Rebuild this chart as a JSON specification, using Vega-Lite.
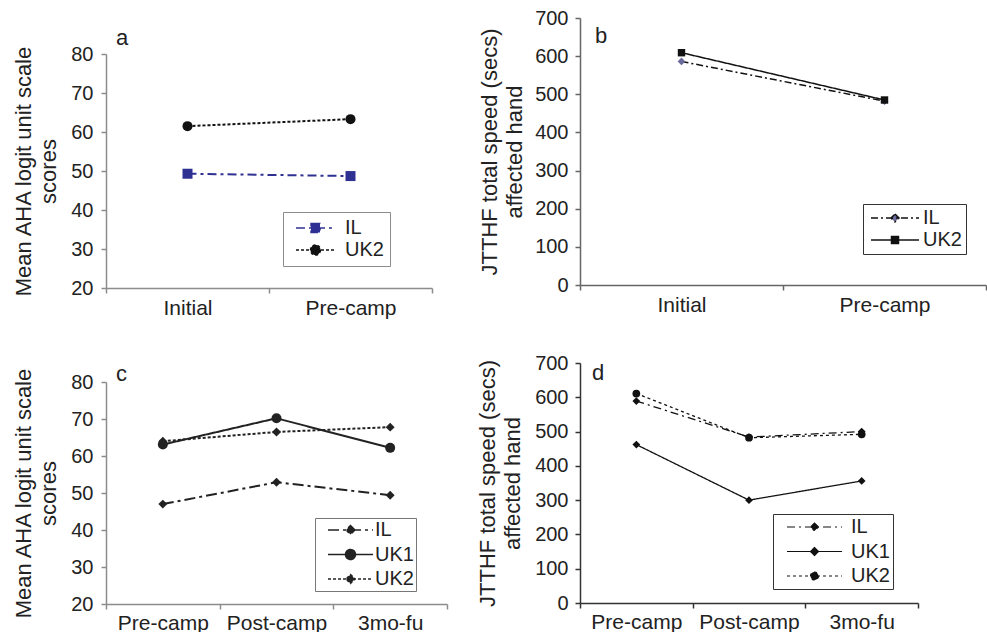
{
  "$schema": "https://vega.github.io/schema/vega-lite/v6.json",
  "padding": {"left": 12, "top": 8, "right": 0, "bottom": 0},
  "background": "white",
  "data": {"values": [
    {"panel": "a", "time": "Initial", "group": "IL", "value": 49.3},
    {"panel": "a", "time": "Pre-camp", "group": "IL", "value": 48.7},
    {"panel": "a", "time": "Initial", "group": "UK2", "value": 61.5},
    {"panel": "a", "time": "Pre-camp", "group": "UK2", "value": 63.3},
    {"panel": "b", "time": "Initial", "group": "IL", "value": 586},
    {"panel": "b", "time": "Pre-camp", "group": "IL", "value": 482},
    {"panel": "b", "time": "Initial", "group": "UK2", "value": 609},
    {"panel": "b", "time": "Pre-camp", "group": "UK2", "value": 485},
    {"panel": "c", "time": "Pre-camp", "group": "IL", "value": 47.0},
    {"panel": "c", "time": "Post-camp", "group": "IL", "value": 52.9},
    {"panel": "c", "time": "3mo-fu", "group": "IL", "value": 49.4},
    {"panel": "c", "time": "Pre-camp", "group": "UK1", "value": 63.1},
    {"panel": "c", "time": "Post-camp", "group": "UK1", "value": 70.2},
    {"panel": "c", "time": "3mo-fu", "group": "UK1", "value": 62.2},
    {"panel": "c", "time": "Pre-camp", "group": "UK2", "value": 64.0},
    {"panel": "c", "time": "Post-camp", "group": "UK2", "value": 66.5},
    {"panel": "c", "time": "3mo-fu", "group": "UK2", "value": 67.8},
    {"panel": "d", "time": "Pre-camp", "group": "IL", "value": 589},
    {"panel": "d", "time": "Post-camp", "group": "IL", "value": 484},
    {"panel": "d", "time": "3mo-fu", "group": "IL", "value": 500},
    {"panel": "d", "time": "Pre-camp", "group": "UK1", "value": 462},
    {"panel": "d", "time": "Post-camp", "group": "UK1", "value": 300},
    {"panel": "d", "time": "3mo-fu", "group": "UK1", "value": 356},
    {"panel": "d", "time": "Pre-camp", "group": "UK2", "value": 611},
    {"panel": "d", "time": "Post-camp", "group": "UK2", "value": 482},
    {"panel": "d", "time": "3mo-fu", "group": "UK2", "value": 492}
  ]},
  "config": {
    "font": "Liberation Sans",
    "view": {"stroke": null},
    "axis": {
      "labelFont": "Liberation Sans", "titleFont": "Liberation Sans",
      "labelColor": "#222", "titleColor": "#222",
      "labelFontSize": 20, "titleFontSize": 22, "titleFontWeight": "normal",
      "domainColor": "#8c8c8c", "tickColor": "#8c8c8c", "domainWidth": 1.5, "tickWidth": 1.5,
      "tickSize": 5, "grid": false
    },
    "legend": {"labelFont": "Liberation Sans", "labelColor": "#222", "labelFontSize": 20, "labelLimit": 200, "clipHeight": 20},
    "title": {"font": "Liberation Sans", "fontSize": 22, "fontWeight": "normal", "color": "#222", "anchor": "start", "frame": "group"}
  },
  "spacing": 28,
  "resolve": {"scale": {"color": "independent", "strokeDash": "independent"}, "legend": {"color": "independent", "strokeDash": "independent"}},
  "hconcat": [
    {
      "spacing": 8,
      "resolve": {"scale": {"color": "independent", "strokeDash": "independent"}, "legend": {"color": "independent", "strokeDash": "independent"}},
      "vconcat": [
        {"width": 10, "height": 1, "data": {"values": []}, "mark": "point", "view": {"fill": "white", "stroke": null}},
        {
          "spacing": 34,
          "resolve": {"scale": {"color": "independent", "strokeDash": "independent"}, "legend": {"color": "independent", "strokeDash": "independent"}},
          "vconcat": [
            {
              "width": 326, "height": 234,
              "title": {"text": "a", "dx": 10, "offset": -6},
              "transform": [{"filter": "datum.panel === 'a'"}],
              "encoding": {
                "x": {"field": "time", "type": "nominal", "sort": ["Initial", "Pre-camp"],
                      "scale": {"type": "band", "paddingInner": 0, "paddingOuter": 0},
                      "axis": {"title": null, "labelAngle": 0, "tickBand": "extent", "labelFontSize": 21, "labelPadding": 4}},
                "y": {"field": "value", "type": "quantitative",
                      "scale": {"domain": [20, 80], "nice": false, "zero": false},
                      "axis": {"values": [20, 30, 40, 50, 60, 70, 80], "title": ["Mean AHA logit unit scale", "scores"], "titleLineHeight": 25, "titlePadding": 10, "labelPadding": 8}}
              },
              "layer": [
                {
                  "mark": {"type": "line", "strokeWidth": 2},
                  "encoding": {
                    "color": {"field": "group", "type": "nominal",
                              "scale": {"domain": ["IL", "UK2"], "range": ["#2e3192", "#111111"]},
                              "legend": {"orient": "none", "legendX": 177, "legendY": 158, "title": null, "padding": 6, "rowPadding": 2, "labelOffset": 3,
                                         "symbolSize": 2601, "symbolStrokeWidth": 1.5, "strokeColor": "#8c8c8c", "fillColor": "white",
                                         "encode": {"symbols": {"update": {
                                           "shape": {"signal": "datum.value === 'IL' ? 'M-0.765,0H0.765M-0.176,-0.176H0.176V0.176H-0.176Z' : 'M-0.765,0H0.765M0.196,0A0.196,0.196,0,1,1,-0.196,0A0.196,0.196,0,1,1,0.196,0Z'"},
                                           "fill": {"signal": "datum.value === 'IL' ? '#2e3192' : '#111111'"}}}}}},
                    "strokeDash": {"field": "group", "type": "nominal",
                                   "scale": {"domain": ["IL", "UK2"], "range": [[9, 4, 3, 4], [3, 2]]},
                                   "legend": {"orient": "none", "legendX": 177, "legendY": 158, "title": null, "padding": 6, "rowPadding": 2, "labelOffset": 3,
                                         "symbolSize": 2601, "symbolStrokeWidth": 1.5, "strokeColor": "#8c8c8c", "fillColor": "white",
                                         "encode": {"symbols": {"update": {
                                           "shape": {"signal": "datum.value === 'IL' ? 'M-0.765,0H0.765M-0.176,-0.176H0.176V0.176H-0.176Z' : 'M-0.765,0H0.765M0.196,0A0.196,0.196,0,1,1,-0.196,0A0.196,0.196,0,1,1,0.196,0Z'"},
                                           "fill": {"signal": "datum.value === 'IL' ? '#2e3192' : '#111111'"}}}}}}
                  }
                },
                {"transform": [{"filter": "datum.group === 'IL'"}], "mark": {"type": "point", "shape": "square", "filled": true, "size": 100, "color": "#2e3192", "opacity": 1}},
                {"transform": [{"filter": "datum.group === 'UK2'"}], "mark": {"type": "point", "shape": "circle", "filled": true, "size": 100, "color": "#111111", "opacity": 1}}
              ]
            },
            {
              "width": 341, "height": 222,
              "title": {"text": ["", "c"], "lineHeight": 11, "dx": 10, "offset": -19},
              "transform": [{"filter": "datum.panel === 'c'"}],
              "encoding": {
                "x": {"field": "time", "type": "nominal", "sort": ["Pre-camp", "Post-camp", "3mo-fu"],
                      "scale": {"type": "band", "paddingInner": 0, "paddingOuter": 0},
                      "axis": {"title": null, "labelAngle": 0, "tickBand": "extent", "labelFontSize": 21, "labelPadding": 3}},
                "y": {"field": "value", "type": "quantitative",
                      "scale": {"domain": [20, 80], "nice": false, "zero": false},
                      "axis": {"values": [20, 30, 40, 50, 60, 70, 80], "title": ["Mean AHA logit unit scale", "scores"], "titleLineHeight": 25, "titlePadding": 10, "labelPadding": 8}}
              },
              "layer": [
                {
                  "mark": {"type": "line", "strokeWidth": 2},
                  "encoding": {
                    "color": {"field": "group", "type": "nominal",
                              "scale": {"domain": ["IL", "UK1", "UK2"], "range": ["#222222", "#222222", "#222222"]},
                              "legend": {"orient": "none", "legendX": 209, "legendY": 136, "title": null, "padding": 2, "rowPadding": 4.5, "labelOffset": -9,
                                         "symbolSize": 4225, "symbolStrokeWidth": 1.5, "strokeColor": "#777", "fillColor": "white",
                                         "encode": {"symbols": {"update": {
                                           "shape": {"signal": "datum.value === 'UK1' ? 'M-0.692,0H0.692M0.154,0A0.154,0.154,0,1,1,-0.154,0A0.154,0.154,0,1,1,0.154,0Z' : 'M-0.692,0H0.692M0,-0.138L0.138,0L0,0.138L-0.138,0Z'"},
                                           "fill": {"value": "#222222"}}}}}},
                    "strokeDash": {"field": "group", "type": "nominal",
                                   "scale": {"domain": ["IL", "UK1", "UK2"], "range": [[11, 4, 3, 4], [1, 0], [3, 2]]},
                                   "legend": {"orient": "none", "legendX": 209, "legendY": 136, "title": null, "padding": 2, "rowPadding": 4.5, "labelOffset": -9,
                                         "symbolSize": 4225, "symbolStrokeWidth": 1.5, "strokeColor": "#777", "fillColor": "white",
                                         "encode": {"symbols": {"update": {
                                           "shape": {"signal": "datum.value === 'UK1' ? 'M-0.692,0H0.692M0.154,0A0.154,0.154,0,1,1,-0.154,0A0.154,0.154,0,1,1,0.154,0Z' : 'M-0.692,0H0.692M0,-0.138L0.138,0L0,0.138L-0.138,0Z'"},
                                           "fill": {"value": "#222222"}}}}}}
                  }
                },
                {"transform": [{"filter": "datum.group !== 'UK1'"}], "mark": {"type": "point", "shape": "diamond", "filled": true, "size": 80, "color": "#222222", "opacity": 1}},
                {"transform": [{"filter": "datum.group === 'UK1'"}], "mark": {"type": "point", "shape": "circle", "filled": true, "size": 100, "color": "#222222", "opacity": 1}}
              ]
            }
          ]
        }
      ]
    },
    {
      "spacing": 38,
      "resolve": {"scale": {"color": "independent", "strokeDash": "independent"}, "legend": {"color": "independent", "strokeDash": "independent"}},
      "vconcat": [
        {
          "width": 406, "height": 267,
          "title": {"text": "b", "dx": 15, "offset": -40},
          "transform": [{"filter": "datum.panel === 'b'"}],
          "encoding": {
            "x": {"field": "time", "type": "nominal", "sort": ["Initial", "Pre-camp"],
                  "scale": {"type": "band", "paddingInner": 0, "paddingOuter": 0},
                  "axis": {"title": null, "labelAngle": 0, "tickBand": "extent", "labelFontSize": 21, "labelPadding": 4, "domainColor": "#666", "tickColor": "#666"}},
            "y": {"field": "value", "type": "quantitative",
                  "scale": {"domain": [0, 700], "nice": false},
                  "axis": {"values": [0, 100, 200, 300, 400, 500, 600, 700], "title": ["JTTHF total speed (secs)", "affected hand"], "titleLineHeight": 25, "titlePadding": 8, "labelPadding": 7, "domainColor": "#666", "tickColor": "#666"}}
          },
          "layer": [
            {
              "mark": {"type": "line", "strokeWidth": 1.5},
              "encoding": {
                "color": {"field": "group", "type": "nominal",
                          "scale": {"domain": ["IL", "UK2"], "range": ["#111111", "#111111"]},
                          "legend": {"orient": "none", "legendX": 283, "legendY": 186, "title": null, "padding": 4, "rowPadding": 2, "labelOffset": 0,
                                     "symbolSize": 2916, "symbolStrokeWidth": 1.5, "strokeColor": "#333", "fillColor": "white",
                                     "encode": {"symbols": {"update": {
                                       "shape": {"signal": "datum.value === 'IL' ? 'M-0.889,0H0.889M0,-0.148L0.148,0L0,0.148L-0.148,0Z' : 'M-0.889,0H0.889M-0.13,-0.13H0.13V0.13H-0.13Z'"},
                                       "fill": {"signal": "datum.value === 'IL' ? '#6b6b9b' : '#111111'"}}}}}},
                "strokeDash": {"field": "group", "type": "nominal",
                               "scale": {"domain": ["IL", "UK2"], "range": [[7, 3, 2, 3], [1, 0]]},
                               "legend": {"orient": "none", "legendX": 283, "legendY": 186, "title": null, "padding": 4, "rowPadding": 2, "labelOffset": 0,
                                     "symbolSize": 2916, "symbolStrokeWidth": 1.5, "strokeColor": "#333", "fillColor": "white",
                                     "encode": {"symbols": {"update": {
                                       "shape": {"signal": "datum.value === 'IL' ? 'M-0.889,0H0.889M0,-0.148L0.148,0L0,0.148L-0.148,0Z' : 'M-0.889,0H0.889M-0.13,-0.13H0.13V0.13H-0.13Z'"},
                                       "fill": {"signal": "datum.value === 'IL' ? '#6b6b9b' : '#111111'"}}}}}}
              }
            },
            {"transform": [{"filter": "datum.group === 'IL'"}], "mark": {"type": "point", "shape": "diamond", "filled": true, "size": 60, "color": "#6b6b9b", "opacity": 1}},
            {"transform": [{"filter": "datum.group === 'UK2'"}], "mark": {"type": "point", "shape": "square", "filled": true, "size": 55, "color": "#111111", "opacity": 1}}
          ]
        },
        {
          "width": 338, "height": 240,
          "title": {"text": "d", "dx": 12, "offset": -32},
          "transform": [{"filter": "datum.panel === 'd'"}],
          "encoding": {
            "x": {"field": "time", "type": "nominal", "sort": ["Pre-camp", "Post-camp", "3mo-fu"],
                  "scale": {"type": "band", "paddingInner": 0, "paddingOuter": 0},
                  "axis": {"title": null, "labelAngle": 0, "tickBand": "extent", "labelFontSize": 21, "labelPadding": 3, "domainColor": "#333", "tickColor": "#333"}},
            "y": {"field": "value", "type": "quantitative",
                  "scale": {"domain": [0, 700], "nice": false},
                  "axis": {"values": [0, 100, 200, 300, 400, 500, 600, 700], "title": ["JTTHF total speed (secs)", "affected hand"], "titleLineHeight": 25, "titlePadding": 10, "labelPadding": 7, "domainColor": "#333", "tickColor": "#333"}}
          },
          "layer": [
            {
              "mark": {"type": "line", "strokeWidth": 1.3},
              "encoding": {
                "color": {"field": "group", "type": "nominal",
                          "scale": {"domain": ["IL", "UK1", "UK2"], "range": ["#111111", "#111111", "#111111"]},
                          "legend": {"orient": "none", "legendX": 193, "legendY": 151, "title": null, "padding": 3, "rowPadding": 4.5, "labelOffset": -2,
                                     "symbolSize": 5625, "symbolStrokeWidth": 1.2, "strokeColor": "#333", "fillColor": "white",
                                     "encode": {"symbols": {"update": {
                                       "shape": {"signal": "datum.value === 'UK2' ? 'M-0.733,0H0.733M0.107,0A0.107,0.107,0,1,1,-0.107,0A0.107,0.107,0,1,1,0.107,0Z' : 'M-0.733,0H0.733M0,-0.107L0.107,0L0,0.107L-0.107,0Z'"},
                                       "fill": {"value": "#111111"}}}}}},
                "strokeDash": {"field": "group", "type": "nominal",
                               "scale": {"domain": ["IL", "UK1", "UK2"], "range": [[8, 4, 2, 4], [1, 0], [3, 3]]},
                               "legend": {"orient": "none", "legendX": 193, "legendY": 151, "title": null, "padding": 3, "rowPadding": 4.5, "labelOffset": -2,
                                     "symbolSize": 5625, "symbolStrokeWidth": 1.2, "strokeColor": "#333", "fillColor": "white",
                                     "encode": {"symbols": {"update": {
                                       "shape": {"signal": "datum.value === 'UK2' ? 'M-0.733,0H0.733M0.107,0A0.107,0.107,0,1,1,-0.107,0A0.107,0.107,0,1,1,0.107,0Z' : 'M-0.733,0H0.733M0,-0.107L0.107,0L0,0.107L-0.107,0Z'"},
                                       "fill": {"value": "#111111"}}}}}}
              }
            },
            {"transform": [{"filter": "datum.group !== 'UK2'"}], "mark": {"type": "point", "shape": "diamond", "filled": true, "size": 60, "color": "#111111", "opacity": 1}},
            {"transform": [{"filter": "datum.group === 'UK2'"}], "mark": {"type": "point", "shape": "circle", "filled": true, "size": 60, "color": "#111111", "opacity": 1}}
          ]
        }
      ]
    }
  ]
}
